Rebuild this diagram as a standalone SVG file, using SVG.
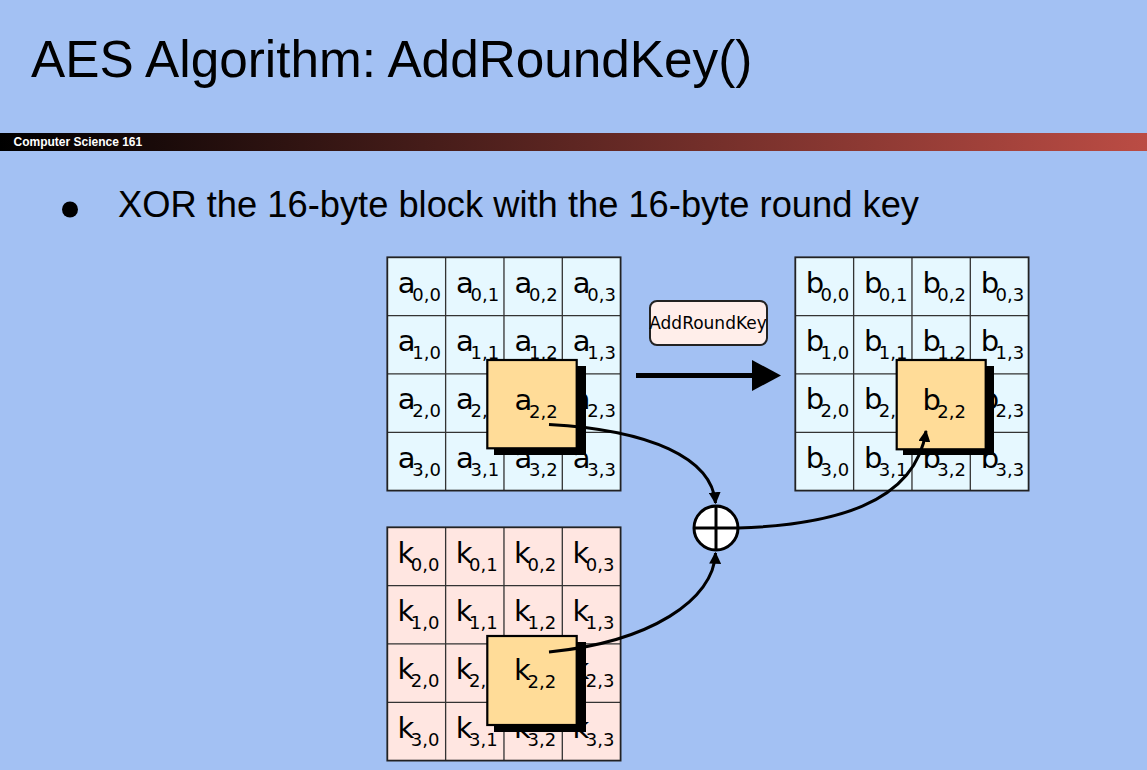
<svg xmlns="http://www.w3.org/2000/svg" width="1147" height="770" viewBox="0 0 1147 770">
  <style>
    .title { font-family: "Liberation Sans", Arial, sans-serif; font-size: 51.3px; fill: #000; }
    .bullet { font-family: "Liberation Sans", Arial, sans-serif; font-size: 36.3px; fill: #000; }
    .course { font-family: "Liberation Sans", Arial, sans-serif; font-size: 12px; font-weight: bold; fill: #fff; }
    .cell { stroke: #333; stroke-width: 1.3; }
    .frame { fill: none; stroke: #222; stroke-width: 1.8; }
    .ch { font-family: "DejaVu Sans", sans-serif; font-size: 29px; fill: #000; }
    .sub { font-size: 18px; }
    .hl { fill: #ffdc98; stroke: #000; stroke-width: 2.2; }
    .shadow { fill: #000; }
    .wire { fill: none; stroke: #000; stroke-width: 3; }
    .lbl { font-family: "DejaVu Sans", sans-serif; font-size: 17px; fill: #000; }
  </style>
  <defs>
    <linearGradient id="barGrad" x1="0" y1="0" x2="1" y2="0">
      <stop offset="0" stop-color="#000000"/>
      <stop offset="1" stop-color="#bb4c44"/>
    </linearGradient>
    <marker id="tip" viewBox="0 0 10 10" refX="9" refY="5" markerWidth="4" markerHeight="4" orient="auto" markerUnits="strokeWidth">
      <path d="M0,0 L10,5 L0,10 Z" fill="#000"/>
    </marker>
    <!-- 4x4 state grid lines, 58.33 px cells -->
    <path id="gridLines" d="M58.33,0 V233.3 M116.67,0 V233.3 M175,0 V233.3 M0,58.33 H233.3 M0,116.67 H233.3 M0,175 H233.3"/>
  </defs>

  <!-- slide background -->
  <rect x="0" y="0" width="1147" height="770" fill="#a3c1f3"/>

  <g id="header">
    <text class="title" x="31" y="77">AES Algorithm: AddRoundKey()</text>
    <rect x="0" y="133" width="1147" height="18" fill="url(#barGrad)"/>
    <text class="course" x="13.5" y="146">Computer Science 161</text>
  </g>

  <g id="bullet">
    <circle cx="70" cy="209.5" r="8" fill="#000"/>
    <text class="bullet" x="118" y="217">XOR the 16-byte block with the 16-byte round key</text>
  </g>

  <!-- input state a: letter plus subscripted row,column -->
  <g id="state-a" transform="translate(387.3,257.3)">
    <rect x="0" y="0" width="233.3" height="233.3" fill="#e6f8ff"/>
    <use href="#gridLines" class="cell"/>
    <rect x="0" y="0" width="233.3" height="233.3" class="frame"/>
    <text class="ch" x="10.5" y="35.5">a<tspan class="sub" dx="-3.3" dy="8">0,0</tspan></text>
    <text class="ch" x="68.8" y="35.5">a<tspan class="sub" dx="-3.3" dy="8">0,1</tspan></text>
    <text class="ch" x="127.2" y="35.5">a<tspan class="sub" dx="-3.3" dy="8">0,2</tspan></text>
    <text class="ch" x="185.5" y="35.5">a<tspan class="sub" dx="-3.3" dy="8">0,3</tspan></text>
    <text class="ch" x="10.5" y="93.8">a<tspan class="sub" dx="-3.3" dy="8">1,0</tspan></text>
    <text class="ch" x="68.8" y="93.8">a<tspan class="sub" dx="-3.3" dy="8">1,1</tspan></text>
    <text class="ch" x="127.2" y="93.8">a<tspan class="sub" dx="-3.3" dy="8">1,2</tspan></text>
    <text class="ch" x="185.5" y="93.8">a<tspan class="sub" dx="-3.3" dy="8">1,3</tspan></text>
    <text class="ch" x="10.5" y="152.2">a<tspan class="sub" dx="-3.3" dy="8">2,0</tspan></text>
    <text class="ch" x="68.8" y="152.2">a<tspan class="sub" dx="-3.3" dy="8">2,1</tspan></text>
    <text class="ch" x="127.2" y="152.2">a<tspan class="sub" dx="-3.3" dy="8">2,2</tspan></text>
    <text class="ch" x="185.5" y="152.2">a<tspan class="sub" dx="-3.3" dy="8">2,3</tspan></text>
    <text class="ch" x="10.5" y="210.5">a<tspan class="sub" dx="-3.3" dy="8">3,0</tspan></text>
    <text class="ch" x="68.8" y="210.5">a<tspan class="sub" dx="-3.3" dy="8">3,1</tspan></text>
    <text class="ch" x="127.2" y="210.5">a<tspan class="sub" dx="-3.3" dy="8">3,2</tspan></text>
    <text class="ch" x="185.5" y="210.5">a<tspan class="sub" dx="-3.3" dy="8">3,3</tspan></text>
  </g>

  <!-- round key k -->
  <g id="key-k" transform="translate(387.3,527.3)">
    <rect x="0" y="0" width="233.3" height="233.3" fill="#ffe6e1"/>
    <use href="#gridLines" class="cell"/>
    <rect x="0" y="0" width="233.3" height="233.3" class="frame"/>
    <text class="ch" x="10.1" y="35.5">k<tspan class="sub" dx="-3.4" dy="8">0,0</tspan></text>
    <text class="ch" x="68.4" y="35.5">k<tspan class="sub" dx="-3.4" dy="8">0,1</tspan></text>
    <text class="ch" x="126.8" y="35.5">k<tspan class="sub" dx="-3.4" dy="8">0,2</tspan></text>
    <text class="ch" x="185.1" y="35.5">k<tspan class="sub" dx="-3.4" dy="8">0,3</tspan></text>
    <text class="ch" x="10.1" y="93.8">k<tspan class="sub" dx="-3.4" dy="8">1,0</tspan></text>
    <text class="ch" x="68.4" y="93.8">k<tspan class="sub" dx="-3.4" dy="8">1,1</tspan></text>
    <text class="ch" x="126.8" y="93.8">k<tspan class="sub" dx="-3.4" dy="8">1,2</tspan></text>
    <text class="ch" x="185.1" y="93.8">k<tspan class="sub" dx="-3.4" dy="8">1,3</tspan></text>
    <text class="ch" x="10.1" y="152.2">k<tspan class="sub" dx="-3.4" dy="8">2,0</tspan></text>
    <text class="ch" x="68.4" y="152.2">k<tspan class="sub" dx="-3.4" dy="8">2,1</tspan></text>
    <text class="ch" x="126.8" y="152.2">k<tspan class="sub" dx="-3.4" dy="8">2,2</tspan></text>
    <text class="ch" x="185.1" y="152.2">k<tspan class="sub" dx="-3.4" dy="8">2,3</tspan></text>
    <text class="ch" x="10.1" y="210.5">k<tspan class="sub" dx="-3.4" dy="8">3,0</tspan></text>
    <text class="ch" x="68.4" y="210.5">k<tspan class="sub" dx="-3.4" dy="8">3,1</tspan></text>
    <text class="ch" x="126.8" y="210.5">k<tspan class="sub" dx="-3.4" dy="8">3,2</tspan></text>
    <text class="ch" x="185.1" y="210.5">k<tspan class="sub" dx="-3.4" dy="8">3,3</tspan></text>
  </g>

  <!-- output state b -->
  <g id="state-b" transform="translate(795.3,257.3)">
    <rect x="0" y="0" width="233.3" height="233.3" fill="#e6f8ff"/>
    <use href="#gridLines" class="cell"/>
    <rect x="0" y="0" width="233.3" height="233.3" class="frame"/>
    <text class="ch" x="10.4" y="35.5">b<tspan class="sub" dx="-3.6" dy="8">0,0</tspan></text>
    <text class="ch" x="68.7" y="35.5">b<tspan class="sub" dx="-3.6" dy="8">0,1</tspan></text>
    <text class="ch" x="127.1" y="35.5">b<tspan class="sub" dx="-3.6" dy="8">0,2</tspan></text>
    <text class="ch" x="185.4" y="35.5">b<tspan class="sub" dx="-3.6" dy="8">0,3</tspan></text>
    <text class="ch" x="10.4" y="93.8">b<tspan class="sub" dx="-3.6" dy="8">1,0</tspan></text>
    <text class="ch" x="68.7" y="93.8">b<tspan class="sub" dx="-3.6" dy="8">1,1</tspan></text>
    <text class="ch" x="127.1" y="93.8">b<tspan class="sub" dx="-3.6" dy="8">1,2</tspan></text>
    <text class="ch" x="185.4" y="93.8">b<tspan class="sub" dx="-3.6" dy="8">1,3</tspan></text>
    <text class="ch" x="10.4" y="152.2">b<tspan class="sub" dx="-3.6" dy="8">2,0</tspan></text>
    <text class="ch" x="68.7" y="152.2">b<tspan class="sub" dx="-3.6" dy="8">2,1</tspan></text>
    <text class="ch" x="127.1" y="152.2">b<tspan class="sub" dx="-3.6" dy="8">2,2</tspan></text>
    <text class="ch" x="185.4" y="152.2">b<tspan class="sub" dx="-3.6" dy="8">2,3</tspan></text>
    <text class="ch" x="10.4" y="210.5">b<tspan class="sub" dx="-3.6" dy="8">3,0</tspan></text>
    <text class="ch" x="68.7" y="210.5">b<tspan class="sub" dx="-3.6" dy="8">3,1</tspan></text>
    <text class="ch" x="127.1" y="210.5">b<tspan class="sub" dx="-3.6" dy="8">3,2</tspan></text>
    <text class="ch" x="185.4" y="210.5">b<tspan class="sub" dx="-3.6" dy="8">3,3</tspan></text>
  </g>

  <!-- highlighted byte a(2,2), raised with a drop shadow -->
  <g id="byte-a22">
    <rect class="shadow" x="494" y="366" width="92" height="89"/>
    <rect class="hl" x="487.3" y="360" width="89.4" height="88.3"/>
    <text class="ch" x="514.5" y="409.5">a<tspan class="sub" dx="-3.3" dy="8">2,2</tspan></text>
  </g>

  <g id="byte-k22">
    <rect class="shadow" x="494" y="642" width="92" height="90"/>
    <rect class="hl" x="487.3" y="636" width="89.4" height="89"/>
    <text class="ch" x="514.1" y="679.5">k<tspan class="sub" dx="-3.4" dy="8">2,2</tspan></text>
  </g>

  <g id="byte-b22">
    <rect class="shadow" x="903" y="366" width="91" height="89"/>
    <rect class="hl" x="896.7" y="360" width="89" height="89.3"/>
    <text class="ch" x="922.4" y="409.5">b<tspan class="sub" dx="-3.6" dy="8">2,2</tspan></text>
  </g>

  <!-- AddRoundKey operation label -->
  <g id="op-label">
    <rect x="650" y="301" width="117" height="44" rx="7" fill="#ffeeea" stroke="#222" stroke-width="2"/>
    <text class="lbl" x="708" y="328.5" text-anchor="middle">AddRoundKey</text>
  </g>

  <!-- XOR node -->
  <g id="xor">
    <circle cx="716" cy="528" r="22" fill="#fff" stroke="#000" stroke-width="3"/>
    <path d="M694,528 H738 M716,506 V550" stroke="#000" stroke-width="3"/>
  </g>

  <g id="connectors">
    <!-- state transition arrow -->
    <line x1="636" y1="375.5" x2="754" y2="375.5" stroke="#000" stroke-width="5"/>
    <path d="M752,360 L781,375.5 L752,391 Z" fill="#000"/>
    <!-- a(2,2) into XOR -->
    <path class="wire" d="M549,424.5 C650,430 712,458 715.5,503" marker-end="url(#tip)"/>
    <!-- k(2,2) into XOR -->
    <path class="wire" d="M549,652 C650,642 714,600 715.5,553" marker-end="url(#tip)"/>
    <!-- XOR result into b(2,2) -->
    <path class="wire" d="M738,528 C830,525 915,505 926,431" marker-end="url(#tip)"/>
  </g>
</svg>
